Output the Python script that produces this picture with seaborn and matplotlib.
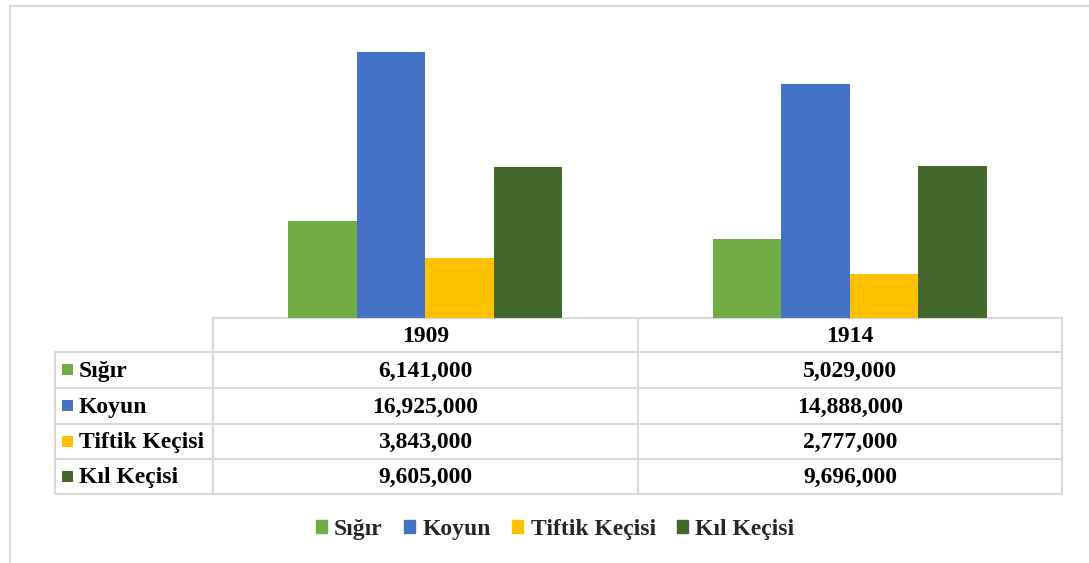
import matplotlib
matplotlib.use("Agg")
import matplotlib.pyplot as plt
import seaborn as sns
import pandas as pd
from matplotlib.patches import Rectangle

years = ["1909", "1914"]
animals = ["Sığır", "Koyun", "Tiftik Keçisi", "Kıl Keçisi"]
sigir = [6141000, 5029000]
koyun = [16925000, 14888000]
tiftik = [3843000, 2777000]
kil = [9605000, 9696000]
colors = ["#70AD47", "#4472C4", "#FFC000", "#43682B"]

series = [sigir, koyun, tiftik, kil]
rows = []
for a, vals in zip(animals, series):
    for y, v in zip(years, vals):
        rows.append({"Yıl": y, "Hayvan": a, "Sayı": v})
df = pd.DataFrame(rows)

sns.set_theme(style="white")
plt.rcParams['font.family'] = ['Liberation Serif', 'DejaVu Serif']
plt.rcParams['font.weight'] = 'bold'

W, H = 1089, 563
fig = plt.figure(figsize=(W / 100, H / 100), dpi=100)
fig.patch.set_facecolor("white")

def fr(x0, y0, x1, y1):
    return [x0 / W, 1 - y1 / H, (x1 - x0) / W, (y1 - y0) / H]

ax = fig.add_axes(fr(213, 35, 1062, 318))
sns.barplot(data=df, x="Yıl", y="Sayı", hue="Hayvan", hue_order=animals,
            palette=colors, width=0.645, saturation=1, ax=ax, legend=False,
            edgecolor="none")
ax.set_ylim(0, 18000000)
ax.set_xlim(-0.5, 1.5)
for s in ax.spines.values():
    s.set_visible(False)
ax.set_xticks([])
ax.set_yticks([])
ax.set_xlabel("")
ax.set_ylabel("")
ax.patch.set_alpha(0)

# data table
tx = fig.add_axes(fr(0, 0, W, H), zorder=-1)
tx.set_xlim(0, W)
tx.set_ylim(H, 0)
tx.axis("off")
lc = "#D9D9D9"
lw = 1.5
fs = 17
row_y = [318, 352, 388, 424, 459, 494]
col_x = [55, 213, 638, 1062]
tx.plot([213, 1062], [318, 318], color=lc, lw=lw)
for x in col_x[1:]:
    tx.plot([x, x], [318, 494], color=lc, lw=lw)
tx.plot([55, 55], [352, 494], color=lc, lw=lw)
for y in row_y[1:]:
    tx.plot([55, 1062], [y, y], color=lc, lw=lw)
for j, yr in enumerate(years):
    cx = (col_x[j + 1] + col_x[j + 2]) / 2
    tx.text(cx, 336, yr, ha="center", va="center", fontsize=fs, fontweight="bold", color="black")
for i, (a, vals, c) in enumerate(zip(animals, series, colors)):
    cy = (row_y[i + 1] + row_y[i + 2]) / 2
    tx.add_patch(Rectangle((62, cy - 6), 11, 11, color=c, lw=0))
    tx.text(79, cy + 1, a, ha="left", va="center", fontsize=fs, fontweight="bold", color="black")
    for j, v in enumerate(vals):
        cx = (col_x[j + 1] + col_x[j + 2]) / 2
        tx.text(cx, cy + 1, f"{v:,}", ha="center", va="center", fontsize=fs, fontweight="bold", color="black")

# outer chart border
tx.plot([10, W], [6, 6], color=lc, lw=1.5)
tx.plot([10, 10], [6, H], color=lc, lw=1.5)

handles = [Rectangle((0, 0), 1, 1, color=c) for c in colors]
leg = fig.legend(handles, animals, loc="center", bbox_to_anchor=(555 / W, 1 - 529 / H),
                 ncol=4, frameon=False, handlelength=0.48, handleheight=0.48,
                 handletextpad=0.3, columnspacing=0.9, prop={"weight": "bold", "size": fs})

fig.savefig("out.png", dpi=100)
